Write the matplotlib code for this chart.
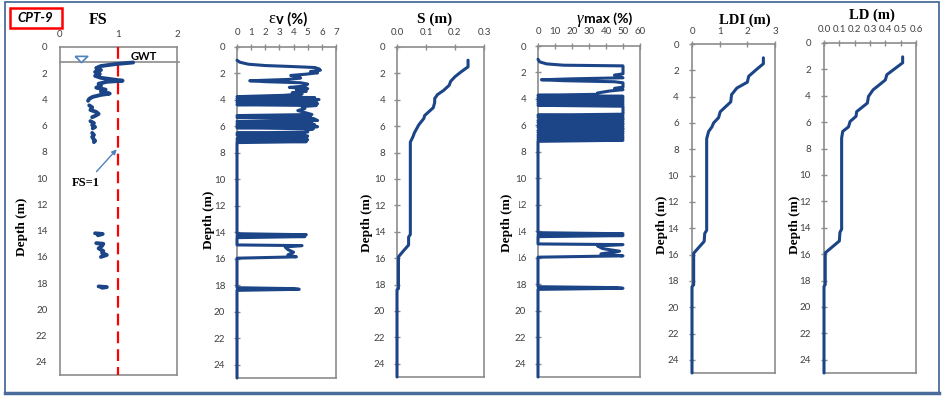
import numpy as np
import matplotlib
matplotlib.use("Agg")
import matplotlib.pyplot as plt
from matplotlib.patches import Rectangle
from matplotlib.lines import Line2D

plt.rcParams["font.family"] = ["Lato", "DejaVu Sans"]

W, H = 943, 396
NAVY = "#1c4587"
SPINE = "#8c8c8c"
TICK_TXT = "#404040"
SERIF = ["Liberation Serif", "DejaVu Serif"]
nan = np.nan

# ---- data (depth in m) ----
fs_depth = [1.18, 1.30, 1.45, 1.60, 1.75, 1.90, 2.05, 2.20, 2.35, 2.50, 2.57, 2.65,
            2.80, 2.95, 3.10, 3.25, 3.40, 3.55, 3.65, 3.80, 3.95, 4.10, nan,
            4.45, 4.60, 4.80, 4.95, 5.10, 5.25, 5.35, nan,
            5.65, 5.80, 5.95, 6.10, 6.20, nan,
            6.55, 6.70, 6.85, 7.00, 7.15, 7.25, nan,
            14.20, 14.25, 14.35, nan,
            14.95, 15.00, 15.15, 15.35, 15.55, 15.70, 15.85, 16.00, nan,
            18.25, 18.30, 18.35]
fs_value = [1.25, 0.95, 0.70, 0.62, 0.70, 0.60, 0.68, 0.60, 0.70, 0.95, 1.07, 0.80,
            0.66, 0.70, 0.62, 0.78, 0.70, 0.85, 0.70, 0.56, 0.50, 0.48, nan,
            0.50, 0.55, 0.52, 0.62, 0.66, 0.60, 0.55, nan,
            0.52, 0.58, 0.55, 0.60, 0.56, nan,
            0.55, 0.58, 0.55, 0.57, 0.60, 0.58, nan,
            0.60, 0.73, 0.65, nan,
            0.62, 0.74, 0.72, 0.66, 0.74, 0.72, 0.80, 0.70, nan,
            0.66, 0.80, 0.72]

ev_depth = [1.00, 1.15, 1.30, 1.40, 1.48, 1.55, 1.65, 1.75, 1.85, 1.95, 2.05, 2.15,
            2.25, 2.35, 2.45, 2.55, 2.62, 2.70, 2.80, 2.95, 3.05, 3.15, 3.25, 3.35,
            3.45, 3.55, 3.65, 3.75, 3.82, 3.90, 3.97, 4.05, 4.12, 4.20, 4.28, 4.36,
            4.42, 4.50, 4.65, 4.80, 4.95, 5.10, 5.18, 5.25, 5.32, 5.40, 5.55, 5.62,
            5.70, 5.80, 5.87, 5.95, 6.02, 6.10, 6.18, 6.30, 6.42, 6.50, 6.58, 6.65,
            6.72, 6.85, 6.92, 7.00, 7.08, 7.15, 7.22, 14.10, 14.18, 14.26, 14.32,
            14.40, 14.95, 15.00, 15.10, 15.30, 15.50, 15.70, 15.85, 15.95, 18.18,
            18.25, 18.30, 18.38, 25.00]
ev_value = [0.0, 0.2, 0.8, 2.0, 4.0, 5.5, 5.8, 5.9, 5.2, 5.7, 4.9, 3.8,
            4.4, 4.5, 3.6, 0.9, 2.0, 4.5, 5.0, 4.8, 3.7, 5.0, 4.2, 4.9,
            3.9, 4.6, 3.3, 0.0, 5.5, 0.0, 5.8, 0.0, 5.6, 0.0, 5.7, 0.0,
            5.6, 4.6, 4.8, 4.3, 4.8, 5.3, 0.0, 5.2, 0.0, 5.4, 5.7, 0.0,
            5.3, 0.0, 5.5, 0.0, 5.7, 0.0, 5.4, 4.9, 5.0, 0.0, 4.8, 0.0,
            5.0, 4.9, 0.0, 5.0, 0.0, 4.9, 0.0, 0.0, 4.9, 0.0, 4.8,
            0.0, 0.0, 4.6, 3.4, 3.6, 4.0, 3.6, 4.2, 0.0, 0.0,
            4.0, 4.4, 0.0, 0.0]

s_depth = [1.00, 1.50, 1.90, 2.25, 2.60, 2.90, 3.30, 3.60, 3.90, 4.20, 4.60, 4.80,
           5.20, 5.40, 5.90, 6.10, 6.50, 6.80, 7.20, 14.20, 14.40, 15.00, 15.50,
           15.90, 18.30, 18.40, 25.00]
s_value = [0.245, 0.245, 0.22, 0.20, 0.185, 0.18, 0.16, 0.14, 0.13, 0.13, 0.125, 0.115,
           0.095, 0.093, 0.075, 0.07, 0.06, 0.055, 0.046, 0.046, 0.04, 0.04, 0.02,
           0.005, 0.005, 0.0, 0.0]

gm_depth = [1.00, 1.20, 1.35, 1.45, 1.50, 2.10, 2.20, 2.30, 2.40, 2.48, 2.55, 2.62,
            2.70, 2.78, 3.10, 3.20, 3.30, 3.40, 3.55, 3.65, 3.72, 3.80, 3.88, 3.95,
            4.02, 4.10, 4.18, 4.25, 4.33, 4.40, 4.48, 4.55, 5.15, 5.22, 5.30, 5.38,
            5.45, 5.55, 5.62, 5.70, 5.78, 5.85, 5.92, 6.00, 6.08, 6.15, 6.22, 6.30,
            6.38, 6.45, 6.52, 6.60, 6.72, 6.80, 6.88, 6.95, 7.05, 7.12, 7.20,
            14.10, 14.18, 14.26, 14.32, 14.40, 14.95, 15.00, 15.10, 15.30, 15.50,
            15.70, 15.85, 15.95, 18.18, 18.25, 18.30, 18.38, 25.00]
gm_value = [0, 1, 5, 15, 50, 50, 45, 47, 50, 20, 2, 15,
            45, 50, 50, 45, 50, 42, 35, 35, 0, 50, 0, 50,
            0, 50, 0, 50, 0, 50, 0, 50, 50, 0, 50, 0,
            50, 50, 0, 50, 0, 50, 50, 0, 50, 0, 50, 50,
            0, 50, 0, 50, 0, 50, 0, 50, 0, 50, 0,
            0, 50, 0, 50, 0, 0, 50, 35, 38, 48,
            37, 50, 0, 0, 46, 50, 0, 0]

ldi_depth = [1.05, 1.50, 1.90, 2.45, 2.90, 3.35, 3.85, 4.40, 5.15, 5.60, 6.00, 6.30,
             6.65, 7.20, 14.15, 14.40, 15.00, 15.90, 18.30, 18.45, 25.00]
ldi_value = [2.58, 2.58, 2.35, 2.05, 2.00, 1.62, 1.43, 1.40, 1.02, 0.96, 0.78, 0.72,
             0.60, 0.53, 0.53, 0.46, 0.44, 0.06, 0.06, 0.0, 0.0]

ld_depth = [1.05, 1.50, 2.40, 2.80, 3.55, 4.05, 4.55, 5.20, 5.55, 5.95, 6.35, 6.70,
            7.20, 14.10, 14.35, 15.00, 15.90, 18.30, 18.45, 25.00]
ld_value = [0.513, 0.513, 0.41, 0.40, 0.32, 0.29, 0.283, 0.213, 0.209, 0.17, 0.16, 0.122,
            0.115, 0.115, 0.104, 0.10, 0.008, 0.008, 0.0, 0.0]

depth_ticks = list(range(0, 25, 2))


def px_axes(fig, left, right, top, bottom):
    ax = fig.add_axes([left / W, 1 - bottom / H, (right - left) / W, (bottom - top) / H])
    ax.px_box = (left, right, top, bottom)
    return ax


def ftext(fig, x, y, s, **kw):
    return fig.text(x / W, 1 - y / H, s, **kw)


def style_panel(ax, xlim, xticks, xlabels, xpad, ypad, tick_len=5):
    ax.set_xlim(*xlim)
    ax.set_ylim(25, 0)
    ax.set_xticks(xticks)
    ax.set_xticklabels(xlabels)
    ax.set_yticks(depth_ticks)
    ax.xaxis.tick_top()
    ax.tick_params(axis="both", direction="inout", length=tick_len, width=1,
                   color=SPINE, labelsize=7, labelcolor=TICK_TXT)
    ax.tick_params(axis="x", pad=xpad)
    ax.tick_params(axis="y", pad=ypad)
    for sp in ax.spines.values():
        sp.set_color(SPINE)
        sp.set_linewidth(1.2)


def depth_label(ax, x, y):
    # centre "Depth (m)" on a pixel position, via the axes' own ylabel
    left, right, top, bottom = ax.px_box
    ax.set_ylabel("Depth (m)", family=SERIF, weight="bold", size=9.5, color="black",
                  va="center", ha="center")
    ax.yaxis.set_label_coords((x - left) / (right - left), (bottom - y) / (bottom - top))


def profile(ax, x, y, lw=2.2):
    ax.plot(x, y, color=NAVY, lw=lw, clip_on=False, zorder=3,
            solid_joinstyle="round", solid_capstyle="round")


fig = plt.figure(figsize=(W / 100, H / 100), dpi=100)

# outer frame and CPT label
fig.add_artist(Rectangle((5 / W, 1 - 393 / H), 934 / W, 391 / H, transform=fig.transFigure,
                         fill=False, ec="#4a6c9b", lw=1.3))
fig.add_artist(Line2D([5 / W, 939 / W], [1 - 393 / H] * 2, transform=fig.transFigure,
                      color="#4a6c9b", lw=2.5))
fig.add_artist(Rectangle((10 / W, 1 - 28 / H), 52 / W, 20 / H, transform=fig.transFigure,
                         fill=False, ec="red", lw=1.8))
ftext(fig, 35, 18.5, "CPT-9", ha="center", va="center", weight="bold", style="italic", size=9.5)

# FS
ax1 = px_axes(fig, 60, 177, 47, 375)
style_panel(ax1, (0, 2), [0, 1, 2], ["0", "1", "2"], xpad=6, ypad=9, tick_len=0)
ax1.plot([1, 1], [0, 25], color="red", lw=1.6, dashes=(5.3, 2.7), clip_on=False, zorder=3)
ax1.plot([0, 2.04], [1.18, 1.18], color=SPINE, lw=1.2, clip_on=False)
profile(ax1, fs_value, fs_depth, lw=2.8)
ax1.plot(0.36, 0.95, marker=[(-1, 0.5), (1, 0.5), (0, -0.5), (-1, 0.5)], ms=9,
         mfc="white", mec="#4f81bd", mew=1.2)
ax1.text(1.43, 0.72, "GWT", ha="center", va="center", weight="bold", size=8)
ax1.annotate("FS=1", xy=(0.97, 7.8), xytext=(0.44, 10.4), ha="center", va="center",
             family=SERIF, weight="bold", size=9,
             arrowprops=dict(arrowstyle="-|>", color="#4f81bd", lw=1, mutation_scale=7,
                             shrinkA=3, shrinkB=0))
depth_label(ax1, 22, 227)

# εv
ax2 = px_axes(fig, 237, 336, 47, 378)
style_panel(ax2, (0, 7), range(8), [str(v) for v in range(8)], xpad=5, ypad=6)
profile(ax2, ev_value, ev_depth)
depth_label(ax2, 209, 220)

# S
ax3 = px_axes(fig, 397, 484, 47, 377)
style_panel(ax3, (0, 0.3), [0, 0.1, 0.2, 0.3], ["0.0", "0.1", "0.2", "0.3"], xpad=5, ypad=6)
profile(ax3, s_value, s_depth)
depth_label(ax3, 367, 223)

# γmax
ax4 = px_axes(fig, 538, 640, 46, 377)
style_panel(ax4, (0, 60), range(0, 61, 10), [str(v) for v in range(0, 61, 10)], xpad=5, ypad=6)
profile(ax4, gm_value, gm_depth)
depth_label(ax4, 507, 223)

# LDI
ax5 = px_axes(fig, 692, 775, 44, 373)
style_panel(ax5, (0, 3), [0, 1, 2, 3], ["0", "1", "2", "3"], xpad=3, ypad=7)
profile(ax5, ldi_value, ldi_depth)
depth_label(ax5, 662, 225)

# LD
ax6 = px_axes(fig, 824, 916, 43, 373)
style_panel(ax6, (0, 0.6), [0, 0.1, 0.2, 0.3, 0.4, 0.5, 0.6],
            ["0.0", "0.1", "0.2", "0.3", "0.4", "0.5", "0.6"], xpad=4, ypad=7)
profile(ax6, ld_value, ld_depth)
depth_label(ax6, 795, 225)

# the depth label left of the gamma panel is half hidden in the original layout
fig.add_artist(Rectangle((511.5 / W, 1 - 262 / H), 7 / W, 80 / H, transform=fig.transFigure,
                         fc="white", ec="none", zorder=5))

# panel titles
ftext(fig, 98, 20, "FS", ha="center", va="center", family=SERIF, weight="bold", size=11.5)
ftext(fig, 275.5, 19, "ε", ha="right", va="center", family=SERIF, size=12)
ftext(fig, 276.5, 19, "v (%)", ha="left", va="center", weight="bold", size=10.5)
ftext(fig, 435, 19, "S (m)", ha="center", va="center", family=SERIF, weight="bold", size=11)
ftext(fig, 583, 19, "γ", ha="right", va="center", family=SERIF, style="italic", size=12)
ftext(fig, 584, 19, "max (%)", ha="left", va="center", weight="bold", size=10)
ftext(fig, 745, 20, "LDI (m)", ha="center", va="center", family=SERIF, weight="bold", size=10.5)
ftext(fig, 872, 15, "LD (m)", ha="center", va="center", family=SERIF, weight="bold", size=10.5)

fig.savefig("out.png", dpi=100)
